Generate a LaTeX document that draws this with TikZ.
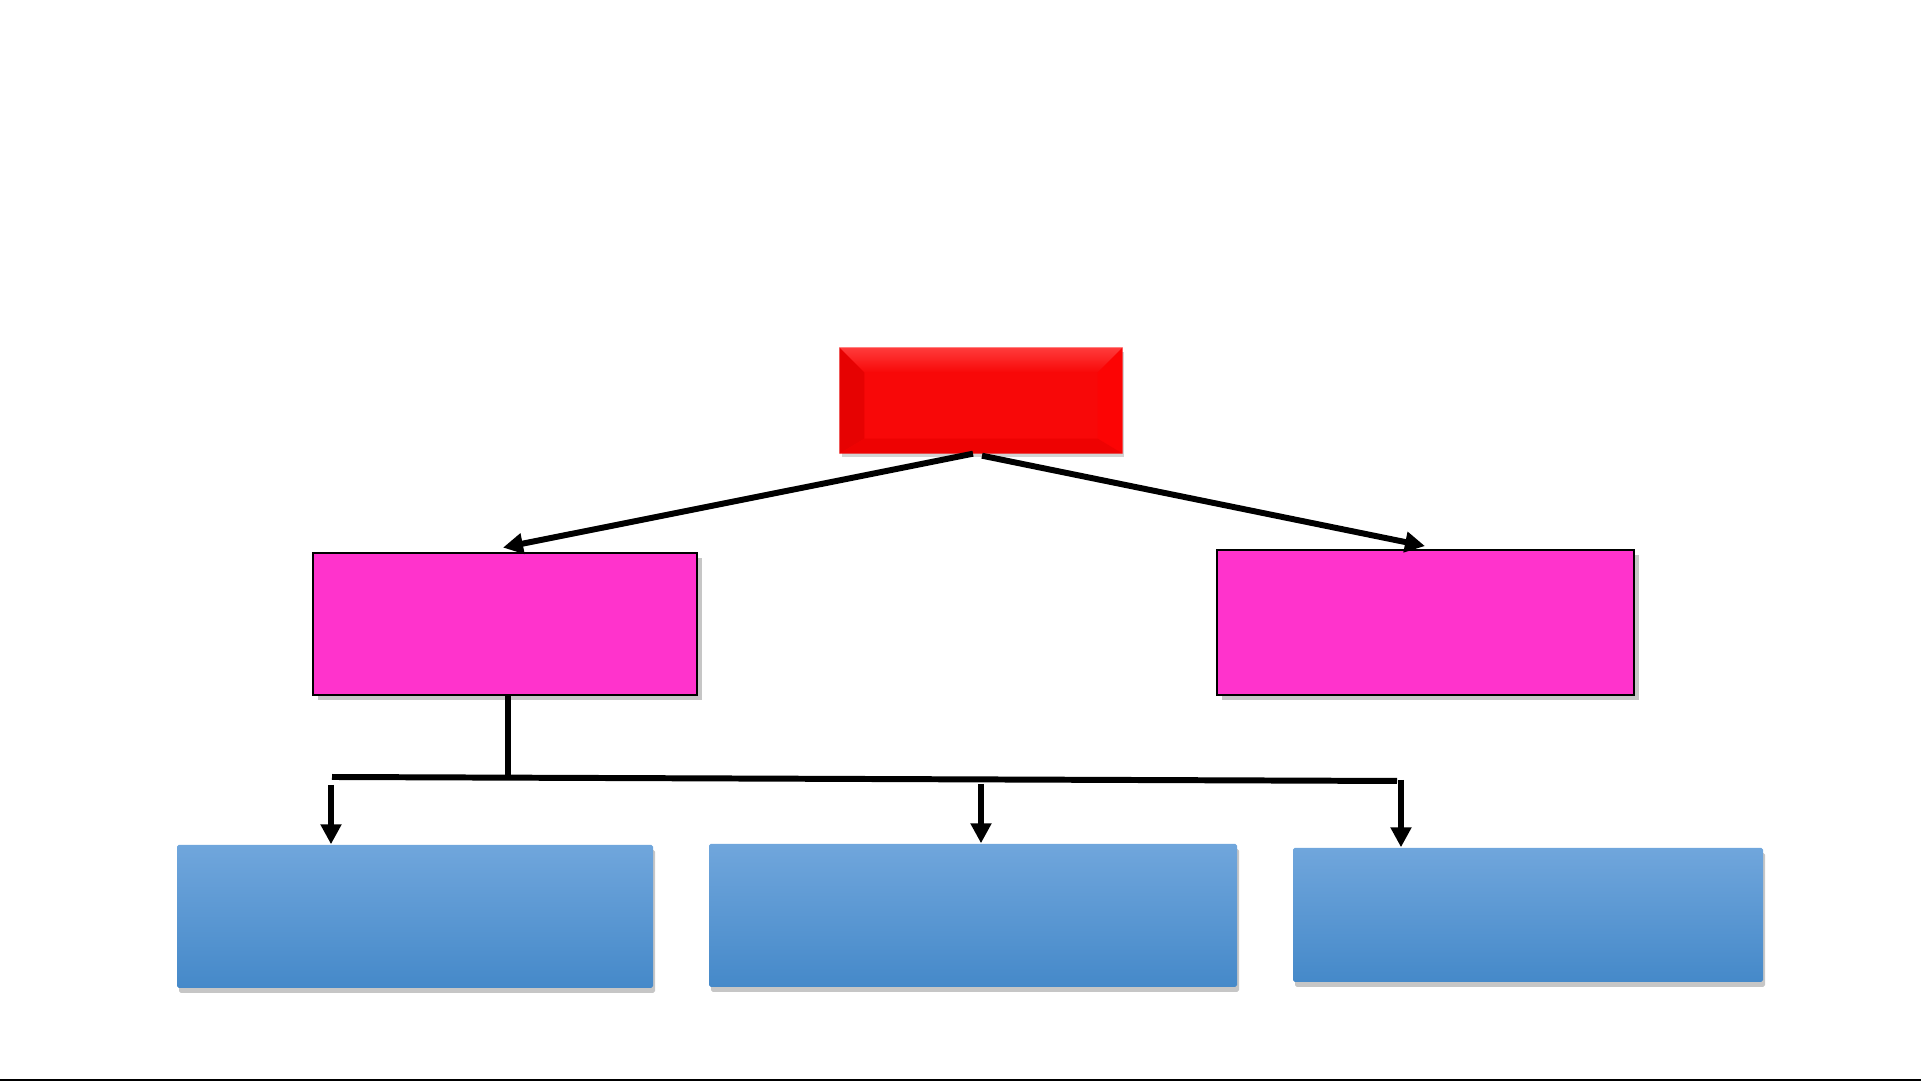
\documentclass[tikz,border=0pt]{standalone}
\usetikzlibrary{arrows.meta,shadows,calc}
\definecolor{redmain}{HTML}{F80808}
\definecolor{redtop}{HTML}{FF3C3C}
\definecolor{redleft}{HTML}{E60202}
\definecolor{redright}{HTML}{FC0404}
\definecolor{redbot}{HTML}{EE0202}
\definecolor{pinkfill}{HTML}{FF33CC}
\definecolor{bluetop}{HTML}{70A6DC}
\definecolor{bluebot}{HTML}{4589C9}
\tikzset{
  redbox/.style={rectangle, minimum width=2.82cm, minimum height=1.05cm, fill=redmain, inner sep=0pt,
    drop shadow={opacity=0.35, shadow xshift=0.02cm, shadow yshift=-0.04cm}},
  pinkbox/.style={rectangle, draw=black, line width=0.8pt, fill=pinkfill, inner sep=0pt,
    drop shadow={opacity=0.45, shadow xshift=0.05cm, shadow yshift=-0.05cm}},
  bluebox/.style={rectangle, top color=bluetop, bottom color=bluebot, inner sep=0pt, rounded corners=0.5pt,
    drop shadow={opacity=0.45, shadow xshift=0.02cm, shadow yshift=-0.05cm}},
  conn/.style={line width=1.7pt, black},
  arr/.style={conn, -{Triangle[length=0.2cm,width=0.2cm]}},
}
\begin{document}
\begin{tikzpicture}
\useasboundingbox (0,0) rectangle (19.21,-10.81);
% nodes
\node[redbox] (top) at (9.81,-4.005) {};
\node[pinkbox, minimum width=3.84cm, minimum height=1.42cm] (pl) at (5.05,-6.24) {};
\node[pinkbox, minimum width=4.17cm, minimum height=1.45cm] (pr) at (14.255,-6.225) {};
\node[bluebox, minimum width=4.76cm, minimum height=1.43cm] (bl) at (4.15,-9.165) {};
\node[bluebox, minimum width=5.28cm, minimum height=1.43cm] (bm) at (9.73,-9.155) {};
\node[bluebox, minimum width=4.70cm, minimum height=1.34cm] (br) at (15.28,-9.15) {};
% bevel of red box
\def\bv{0.25}
\fill[redleft] (top.north west) -- (top.south west) -- ($(top.south west)+(\bv,\bv*0.6)$) -- ($(top.north west)+(\bv,-\bv)$) -- cycle;
\fill[redright] (top.north east) -- (top.south east) -- ($(top.south east)+(-\bv,\bv*0.6)$) -- ($(top.north east)+(-\bv,-\bv)$) -- cycle;
\fill[redbot] (top.south west) -- (top.south east) -- ($(top.south east)+(-\bv,\bv*0.6)$) -- ($(top.south west)+(\bv,\bv*0.6)$) -- cycle;
\shade[top color=redtop, bottom color=redmain] (top.north west) -- (top.north east) -- ($(top.north east)+(-\bv,-\bv)$) -- ($(top.north west)+(\bv,-\bv)$) -- cycle;
% connectors from red
\coordinate (sl) at ($(top.south)+(-0.08,0)$);
\coordinate (sr) at ($(top.south)+(0.01,-0.02)$);
\coordinate (tl) at ($(pl.north)+(-0.02,0.04)$);
\coordinate (tr) at ($(pr.north)+(-0.005,0.025)$);
\draw[arr] (sl) -- (tl);
\draw[arr] (sr) -- (tr);
% tree below left pink
\coordinate (j) at ($(pl.south)+(0.03,-0.82)$);
\coordinate (h1) at (3.32,-7.77);
\coordinate (h2) at (13.97,-7.81);
\draw[conn] (pl.south -| j) -- (j);
\draw[conn] (h1) -- (h2);
\coordinate (a1) at (3.31,-7.85);
\coordinate (a2) at (9.81,-7.84);
\coordinate (a3) at (14.01,-7.80);
\draw[arr] (a1) -- (a1 |- bl.north);
\draw[arr] (a2) -- (a2 |- bm.north);
\draw[arr] (a3) -- (a3 |- br.north);
% bottom edge line
\coordinate (b0) at (0,-10.80);
\coordinate (b1) at (19.21,-10.80);
\draw[line width=0.5pt, black] (b0) -- (b1);
\end{tikzpicture}
\end{document}
